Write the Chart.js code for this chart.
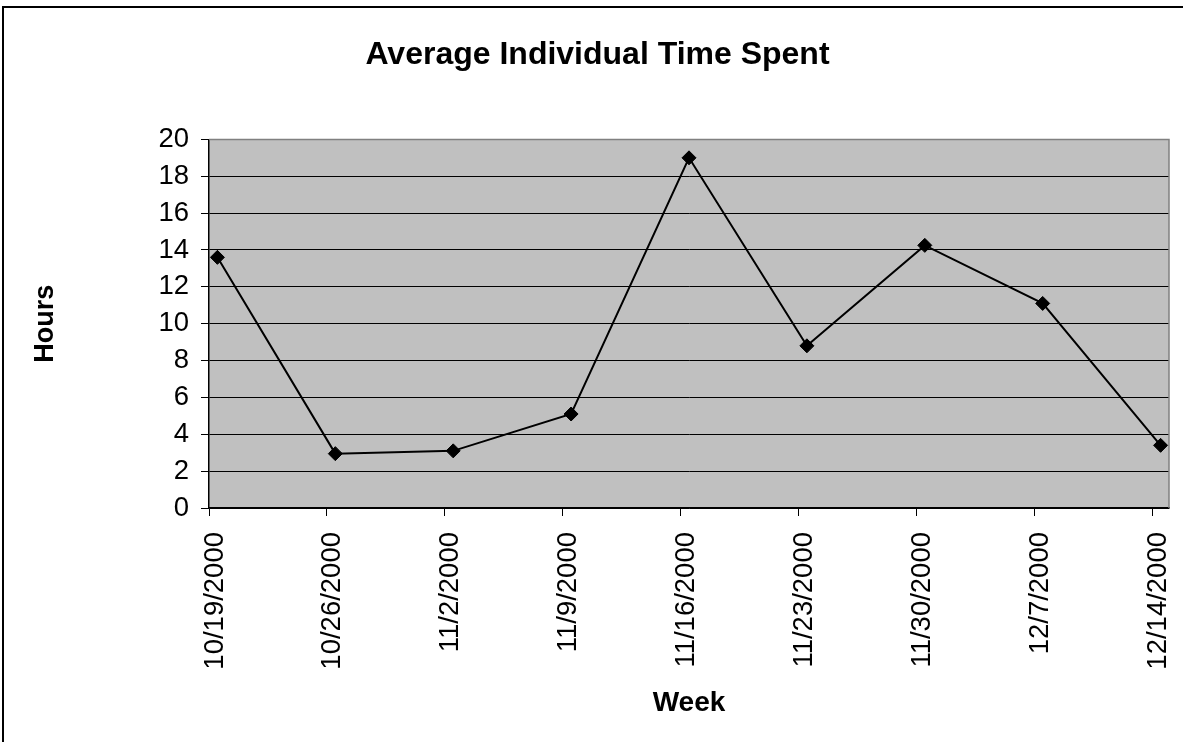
<!DOCTYPE html>
<html>
<head>
<meta charset="utf-8">
<title>Average Individual Time Spent</title>
<script src="https://cdn.jsdelivr.net/npm/chart.js@4.4.1/dist/chart.umd.min.js"></script>
<style>
  html, body { margin: 0; padding: 0; background: #fff; }
  canvas { display: block; }
</style>
</head>
<body>
<canvas id="chart" width="1183" height="742"></canvas>
<script>
// week labels and days since first week
const weeks = ['10/19/2000', '10/26/2000', '11/2/2000', '11/9/2000', '11/16/2000',
               '11/23/2000', '11/30/2000', '12/7/2000', '12/14/2000'];
const dayOffsets = [0, 7, 14, 21, 28, 35, 42, 49, 56];
const hours = [13.6, 2.95, 3.1, 5.1, 19.0, 8.8, 14.25, 11.1, 3.4];
const yMax = 20;
const yStep = 2;

const FONT = "'Liberation Sans', Arial, sans-serif";

// white page, outer frame, grey plot area, grey top/right edge
const frame = {
  id: 'frame',
  beforeDraw(chart) {
    const { ctx, chartArea: a } = chart;
    ctx.save();
    ctx.fillStyle = '#fff';
    ctx.fillRect(0, 0, chart.width, chart.height);
    ctx.strokeStyle = '#000';
    ctx.lineWidth = 2;
    ctx.strokeRect(3, 7, chart.width + 10, chart.height + 10);
    ctx.fillStyle = '#c0c0c0';
    ctx.fillRect(a.left, a.top, a.right - a.left, a.bottom - a.top);
    ctx.restore();
  },
  beforeDatasetsDraw(chart) {
    const { ctx, chartArea: a } = chart;
    ctx.save();
    ctx.strokeStyle = '#808080';
    ctx.lineWidth = 1.5;
    ctx.beginPath();
    ctx.moveTo(a.left, a.top);
    ctx.lineTo(a.right, a.top);
    ctx.lineTo(a.right, a.bottom);
    ctx.stroke();
    ctx.restore();
  }
};

new Chart(document.getElementById('chart'), {
  type: 'line',
  data: {
    datasets: [{
      label: 'Hours',
      // Excel puts date points at mid-day
      data: hours.map((h, i) => ({ x: dayOffsets[i] + 0.5, y: h })),
      borderColor: '#000',
      borderWidth: 2,
      tension: 0,
      pointStyle: 'rectRot',
      pointRadius: 7,
      pointBackgroundColor: '#000',
      pointBorderColor: '#000',
      pointBorderWidth: 1
    }]
  },
  options: {
    responsive: false,
    animation: false,
    layout: { padding: { left: 26, right: 14, top: 0, bottom: 0 } },
    plugins: {
      legend: { display: false },
      tooltip: { enabled: false },
      title: {
        display: true,
        text: 'Average Individual Time Spent',
        color: '#000',
        font: { family: FONT, size: 32, weight: 'bold' },
        padding: { top: 36, bottom: 65 }
      }
    },
    scales: {
      x: {
        type: 'linear',
        min: 0,
        max: dayOffsets[dayOffsets.length - 1] + 1,
        afterFit(scale) {
          scale.height = 234;
          scale.paddingRight = 14;
        },
        grid: { drawOnChartArea: false, color: '#000', tickLength: 8, lineWidth: 1 },
        border: { color: '#000', width: 1.5 },
        ticks: {
          stepSize: 7,
          includeBounds: false,
          autoSkip: false,
          minRotation: 90,
          maxRotation: 90,
          padding: 16,
          labelOffset: 6,
          color: '#000',
          font: { family: FONT, size: 27.5 },
          callback: (v) => {
            const i = dayOffsets.indexOf(v);
            return i >= 0 ? weeks[i] : '';
          }
        },
        title: {
          display: true,
          text: 'Week',
          color: '#000',
          font: { family: FONT, size: 28, weight: 'bold' },
          padding: { top: 0, bottom: 22 }
        }
      },
      y: {
        min: 0,
        max: yMax,
        afterFit(scale) { scale.width = 183; },
        grid: {
          color: (ctx) => ctx.tick && ctx.tick.value === yMax ? '#808080' : '#000',
          tickColor: '#000',
          tickLength: 8,
          lineWidth: 1
        },
        border: { color: '#000', width: 1.5 },
        ticks: {
          stepSize: yStep,
          padding: 12,
          color: '#000',
          font: { family: FONT, size: 27.5 }
        },
        title: {
          display: true,
          text: 'Hours',
          color: '#000',
          font: { family: FONT, size: 27, weight: 'bold' },
          padding: { top: 3, bottom: 0 }
        }
      }
    }
  },
  plugins: [frame]
});
</script>
</body>
</html>
